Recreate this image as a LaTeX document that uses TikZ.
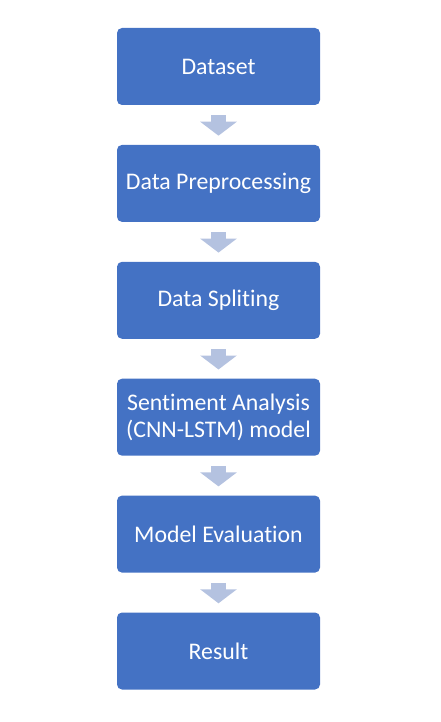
\documentclass[tikz,border=0pt]{standalone}
\usepackage{fontspec}
\setmainfont[Ligatures=NoCommon]{Carlito}
\usetikzlibrary{positioning,arrows.meta}
\definecolor{boxblue}{RGB}{68,114,196}
\definecolor{arrowblue}{RGB}{180,194,224}
\begin{document}
\begin{tikzpicture}[x=1pt, y=1pt,
  stage/.style={fill=boxblue, rounded corners=5pt, text=white, minimum width=203pt, minimum height=77pt, inner sep=0pt, align=center, font=\fontsize{23.8}{27}\selectfont},
  flow/.style={draw=arrowblue, line width=15pt, -{Triangle[width=36pt,length=14pt,fill=arrowblue]}, shorten <=10pt, shorten >=9pt}]

  % Rahmen
  \useasboundingbox (0,0) rectangle (440,-722);

  % Stufen
  \node[stage] (dataset) at (218.5,-66.5) {Dataset};
  \node[stage, below=39.5pt of dataset] (prep) {Data Preprocessing};
  \node[stage, below=39.5pt of prep] (split) {Data Spliting};
  \node[stage, below=39.5pt of split] (model) {Sentiment Analysis\\(CNN-LSTM) model};
  \node[stage, below=39.5pt of model] (eval) {Model Evaluation};
  \node[stage, below=39.5pt of eval] (result) {Result};

  % Pfeile
  \draw[flow] (dataset) -- (prep);
  \draw[flow] (prep) -- (split);
  \draw[flow] (split) -- (model);
  \draw[flow] (model) -- (eval);
  \draw[flow] (eval) -- (result);

\end{tikzpicture}
\end{document}
